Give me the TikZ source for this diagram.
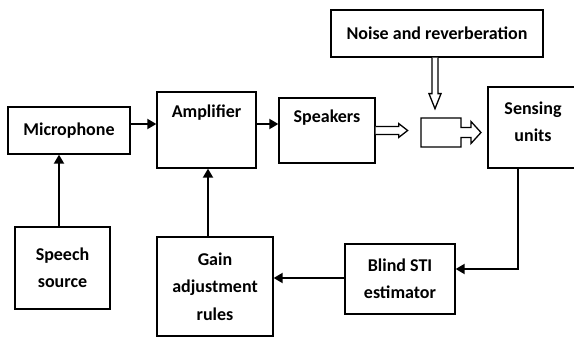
\documentclass[tikz,border=0pt]{standalone}
\usepackage{fontspec}
\setmainfont{Carlito}
\usetikzlibrary{arrows.meta,calc}
\begin{document}
\begin{tikzpicture}[x=1pt,y=-1pt,
  every node/.style={font=\fontsize{18}{27.5}\selectfont\bfseries},
  box/.style={draw, line width=1.3pt, inner sep=0pt, align=center},
  arr/.style={line width=1.8pt, -{Triangle[length=9pt,width=10pt]}},
  hollow/.style={draw, line width=1.3pt, line join=miter, fill=white}]
\useasboundingbox (0,0) rectangle (574,337);
% boxes
\node[box, minimum width=122pt, minimum height=47pt] (mic) at (69,130.5) {Microphone};
\node[box, minimum width=99pt, minimum height=76pt] (amp) at (206.5,130) {};
\node[anchor=center] (amptxt) at (206.5,113) {Amplifier};
\node[box, minimum width=96pt, minimum height=65pt] (spk) at (327,130.5) {};
\node[anchor=center] (spktxt) at (327,118) {Speakers};
\node[box, minimum width=212pt, minimum height=47pt] (noise) at (437,33.5) {Noise and reverberation};
\node[box, minimum width=90pt, minimum height=81pt] (sens) at (533,127.5) {};
\node[anchor=center, align=center] (senstxt) at (533,122) {Sensing\\units};
\node[box, minimum width=95pt, minimum height=82pt] (speech) at (62.5,268) {Speech\\source};
\node[box, minimum width=116pt, minimum height=99pt] (gain) at (215,286.5) {Gain\\adjustment\\rules};
\node[box, minimum width=110pt, minimum height=70pt] (blind) at (400,279) {Blind STI\\estimator};
% connectors
\draw[arr] ([yshift=6.5pt]mic.east) -- ([yshift=6pt]amp.west);
\draw[arr] ([yshift=6pt]amp.east) -- ([yshift=6.5pt]spk.west);
\draw[arr] ([xshift=-3.5pt]speech.north) -- ([xshift=-10pt]mic.south);
\draw[arr] ([xshift=-7pt]gain.north) -- ([xshift=1.5pt]amp.south);
\draw[arr] ([xshift=-15pt]sens.south) |- ([yshift=10pt]blind.east);
\draw[arr] ([yshift=1pt]blind.west) -- ([yshift=8.5pt]gain.east);
% hollow arrows
\draw[hollow] (spk.east) ++(0,-4) -- ++(23,0) -- ++(0,-3) -- ++(9,7) -- ++(-9,7) -- ++(0,-3) -- ++(-23,0);
\draw[hollow] ([xshift=-2pt]noise.south) ++(-3,0) -- ++(0,36) -- ++(-3,0) -- ++(6,15) -- ++(6,-15) -- ++(-3,0) -- ++(0,-36);
\coordinate (mix) at (421,118);
\draw[hollow] (mix) -- ++(40,0) -- ++(0,9.5) -- ++(10,0) -- ++(0,-6) -- ++(10,11) -- ++(-10,11) -- ++(0,-6) -- ++(-10,0) -- ++(0,9.5) -- ++(-40,0) -- cycle;
\end{tikzpicture}
\end{document}
